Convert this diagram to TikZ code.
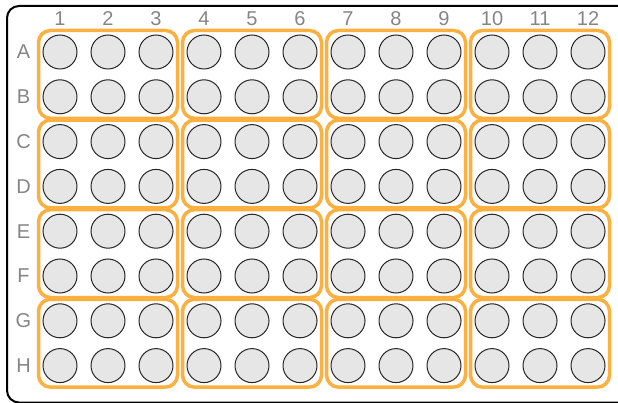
\documentclass[tikz,border=0pt]{standalone}
\usepackage{fontspec}
\setmainfont{Liberation Sans}
\usetikzlibrary{fit}
\definecolor{wellgray}{HTML}{E6E6E6}
\definecolor{blockorange}{HTML}{FBB040}
\definecolor{labelgray}{HTML}{858585}

\begin{document}
\begin{tikzpicture}[
    x=1pt, y=-1pt,
    well/.style={circle, draw=black!85, line width=1pt, fill=wellgray,
        minimum size=34pt, inner sep=0pt},
    block/.style={draw=blockorange, line width=3.5pt, rounded corners=12pt, inner sep=4pt},
    plate/.style={draw=black, line width=2pt, rounded corners=12pt},
    lbl/.style={text=labelgray, font=\fontsize{20}{20}\selectfont, inner sep=0pt}
]
\useasboundingbox (0,0) rectangle (618,403);
\clip (0,0) rectangle (618,403);
\draw[plate] (7,6) rectangle (640,402.5);
% column numbers
\foreach \c in {1,...,12}
    \node[lbl] (col\c) at ({60+48*(\c-1)},18.5) {\c};
% row letters and wells
\foreach \r [count=\i from 0] in {A,B,C,D,E,F,G,H} {
    \node[lbl] (row\r) at (23.5,{52+44.8*\i}) {\r};
    \foreach \c in {1,...,12}
        \node[well] (\r\c) at ({60+48*(\c-1)},{52+44.8*\i}) {};
}
% 2x3 groups
\foreach \top/\bot in {A/B,C/D,E/F,G/H}
    \foreach \first/\last in {1/3,4/6,7/9,10/12}
        \node[block, fit=(\top\first)(\bot\last)] (block\top\first) {};
\end{tikzpicture}
\end{document}
